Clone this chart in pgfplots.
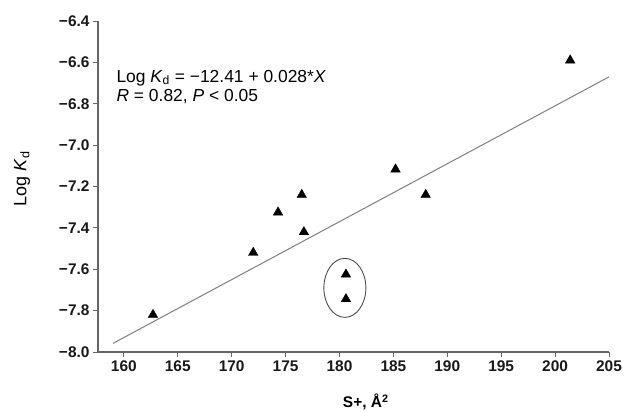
\documentclass[border=0pt]{standalone}
\usepackage{fontspec}
\setmainfont{Liberation Sans}
\usepackage{pgfplots}
\pgfplotsset{compat=1.18}

\begin{document}
\begin{tikzpicture}
  \begin{axis}[
    name=ax,
    scale only axis,
    width=511bp, height=331bp,
    xmin=157.6, xmax=205,
    ymin=-8, ymax=-6.4,
    axis lines=left,
    axis line style={black!60, line width=1.1bp, -},
    tick align=outside,
    major tick length=5bp,
    tick style={black!60, line width=0.9bp},
    xtick={160,165,...,205},
    ytick={-8,-7.8,-7.6,-7.4,-7.2,-7,-6.8,-6.6,-6.4},
    yticklabels={−8.0,−7.8,−7.6,−7.4,−7.2,−7.0,−6.8,−6.6,−6.4},
    /pgf/number format/assume math mode=true,
    tick label style={font=\fontsize{15.5}{17}\selectfont\bfseries, text=black!90},
    xlabel={S+, Å\textsuperscript{2}},
    ylabel={Log \textit{K}\textsubscript{d}},
    every axis x label/.style={at={(axis description cs:0.524,0)}, yshift=-50bp, anchor=center, font=\fontsize{15.5}{18}\selectfont\bfseries},
    every axis y label/.style={at={(axis description cs:0,0.523)}, xshift=-76bp, rotate=90, anchor=center, font=\fontsize{18}{20}\selectfont},
    clip=false,
  ]
    % regression line
    \addplot[black!50, line width=1bp] coordinates {(159,-7.958) (205,-6.67)};

    % data points
    \addplot[only marks, mark=triangle*, mark size=5.5bp, black] coordinates {
      (162.7,-7.82)
      (172.0,-7.52)
      (174.3,-7.325)
      (176.5,-7.24)
      (176.7,-7.42)
      (180.6,-7.625)
      (180.6,-7.744)
      (185.2,-7.117)
      (188.0,-7.24)
      (201.4,-6.59)
    };

    \draw[black!70, line width=0.9bp] (axis cs:180.5,-7.69) ellipse [x radius=21bp, y radius=29.5bp];

    \node[anchor=base west, inner sep=0pt, font=\fontsize{17.5}{19}\selectfont]
      at (axis cs:159.3,-6.695) {Log \textit{K}\textsubscript{d} = −12.41 + 0.028*\textit{X}};
    \node[anchor=base west, inner sep=0pt, font=\fontsize{17.5}{19}\selectfont]
      at (axis cs:159.3,-6.79) {\textit{R} = 0.82, \textit{P} < 0.05};
  \end{axis}
  \pgfresetboundingbox
  \path[use as bounding box] ([shift={(-98bp,-60bp)}]ax.south west) rectangle ([shift={(529bp,352bp)}]ax.south west);
\end{tikzpicture}
\end{document}
